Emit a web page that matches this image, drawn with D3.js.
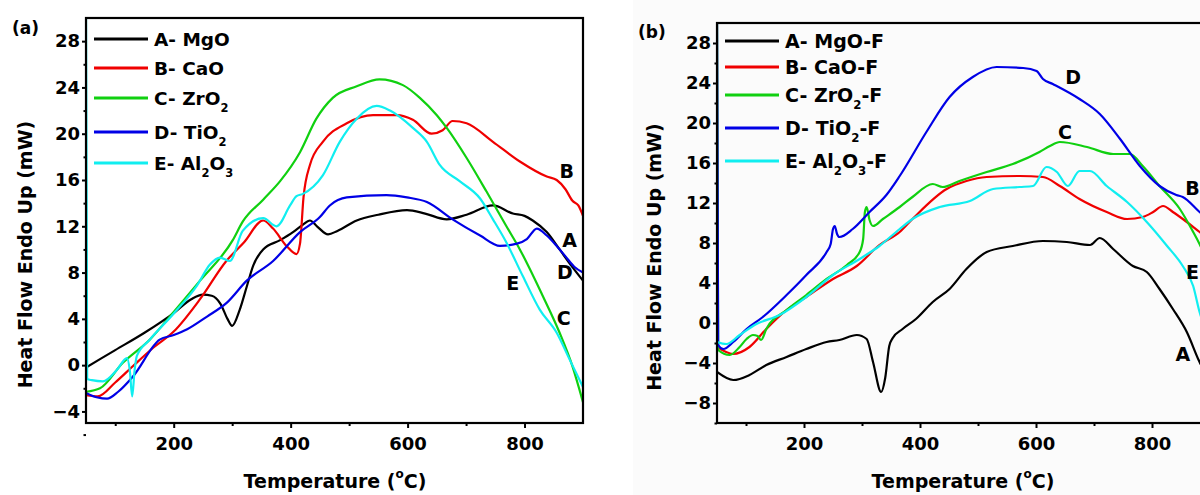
<!DOCTYPE html>
<html>
<head>
<meta charset="utf-8">
<script src="https://cdn.jsdelivr.net/npm/d3@7"></script>
<style>
  body { margin: 0; background: #fff; }
  svg { display: block; font-family: "DejaVu Sans", sans-serif; font-weight: bold; }
  .tick text { font-size: 18px; font-weight: bold; fill: #000; }
</style>
</head>
<body>
<div id="chart"></div>
<script>
// ---- panel (a) : oxides ----
var a_MgO = [[50,-0.2],[100,1.3],[150,2.8],[200,4.5],[230,5.7],[250,6.1],[265,6.0],[280,5.3],[292,4.0],[300,3.4],[313,4.8],[325,6.8],[336,8.6],[353,10.0],[382,10.8],[404,11.5],[420,12.1],[433,12.5],[445,12.0],[464,11.3],[480,11.6],[513,12.5],[550,13.0],[599,13.4],[630,13.1],[667,12.6],[701,13.0],[746,13.8],[780,13.1],[800,12.9],[814,12.5],[838,11.5],[860,10.0],[880,8.6],[900,7.3]];
var a_CaO = [[50,-2.6],[70,-2.7],[100,-1.5],[130,-0.1],[165,1.5],[200,2.9],[245,5.7],[290,9.0],[320,10.6],[353,12.5],[370,11.8],[393,10.3],[410,9.6],[416,10.5],[422,14.5],[433,17.3],[455,19.3],[496,20.9],[541,21.6],[582,21.6],[609,21.2],[641,20.0],[660,20.3],[677,21.1],[701,20.9],[746,19.3],[792,17.6],[838,16.3],[855,16.0],[870,15.2],[882,14.2],[892,13.8],[900,12.9]];
var a_ZrO2 = [[50,-2.3],[74,-2.0],[113,0.2],[159,2.2],[200,4.6],[245,7.3],[301,10.8],[318,12.4],[353,14.3],[382,15.9],[416,18.4],[444,21.3],[472,23.1],[513,24.1],[552,24.7],[592,24.2],[621,23.1],[650,21.6],[667,20.5],[701,17.9],[735,15.0],[769,12.0],[792,10.0],[831,6.0],[860,2.8],[882,-0.1],[900,-3.2]];
var a_TiO2 = [[50,-2.4],[70,-2.8],[86,-2.9],[105,-2.3],[130,-1.0],[176,2.2],[200,2.6],[223,3.1],[257,4.2],[291,5.4],[325,7.3],[370,9.0],[416,11.5],[450,12.8],[467,13.8],[496,14.5],[564,14.7],[599,14.5],[633,14.1],[677,12.6],[724,11.2],[758,10.3],[787,10.5],[804,10.9],[821,11.8],[838,11.2],[855,10.3],[870,9.4],[885,8.5],[900,8.0]];
var a_Al2O3 = [[50,31],[52,-1.2],[60,-1.3],[79,-1.4],[103,-0.4],[120,0.6],[125,-0.5],[129,-2.7],[133,-0.5],[137,0.8],[159,2.2],[199,4.4],[240,6.9],[262,8.7],[279,9.3],[296,9.0],[318,11.6],[353,12.7],[376,12.0],[399,13.8],[410,14.6],[421,14.8],[455,16.4],[484,19.3],[513,21.3],[547,22.4],[570,22.0],[609,20.5],[633,19.3],[655,17.3],[689,15.9],[724,14.4],[746,12.6],[769,10.6],[797,7.7],[826,4.8],[855,2.8],[877,0.5],[900,-1.9]];

// ---- panel (b) : fluorinated ----
var b_MgO = [[50,-4.9],[78,-5.7],[106,-5.2],[135,-4.2],[170,-3.4],[204,-2.6],[239,-1.9],[261,-1.7],[291,-1.2],[308,-1.6],[319,-3.9],[333,-6.9],[340,-5.5],[347,-2.3],[353,-1.5],[370,-0.6],[393,0.4],[422,2.1],[451,3.4],[480,5.4],[515,7.1],[560,7.7],[612,8.2],[653,8.1],[693,7.8],[710,8.5],[733,7.4],[767,5.7],[791,5.1],[813,3.4],[836,1.4],[860,-0.9],[882,-3.9],[900,-5.8]];
var b_CaO = [[50,-2.4],[78,-3.1],[106,-2.4],[135,-0.6],[170,1.3],[204,2.6],[250,4.4],[291,5.7],[330,7.8],[365,9.1],[387,10.4],[446,13.4],[480,14.2],[515,14.6],[572,14.7],[612,14.6],[641,13.7],[675,12.4],[722,11.1],[757,10.4],[784,10.6],[802,11.1],[819,11.7],[836,11.1],[860,10.1],[882,9.1],[900,8.3]];
var b_ZrO2 = [[50,31],[52,-2.7],[72,-3.2],[89,-2.4],[101,-1.6],[112,-1.2],[120,-1.3],[126,-1.7],[135,-0.6],[170,1.3],[204,2.8],[239,4.4],[274,5.8],[296,7.1],[302,8.4],[305,11.1],[308,11.6],[313,10.3],[319,9.7],[336,10.4],[365,11.6],[387,12.6],[422,13.9],[439,13.6],[468,14.2],[515,15.1],[560,15.9],[606,17.1],[624,17.7],[641,18.1],[688,17.6],[733,16.9],[762,16.9],[784,15.7],[813,13.7],[848,11.4],[871,9.1],[882,7.9],[900,5.5]];
var b_TiO2 = [[50,31],[52,-2.2],[61,-2.6],[78,-1.9],[101,-0.6],[129,0.6],[170,2.8],[204,4.8],[239,7.1],[246,7.9],[250,9.4],[253,9.7],[257,8.9],[261,8.6],[284,9.4],[313,11.1],[342,12.8],[365,14.7],[411,19.1],[451,22.6],[491,24.6],[532,25.6],[578,25.5],[601,25.2],[612,24.4],[629,23.9],[675,22.4],[710,20.9],[745,18.4],[779,15.7],[813,13.7],[842,12.8],[853,12.6],[882,11.1],[900,10.2]];
var b_Al2O3 = [[50,-1.9],[66,-2.1],[89,-1.2],[118,-0.1],[158,0.8],[204,2.6],[250,4.8],[296,6.4],[330,7.7],[365,9.4],[387,10.4],[434,11.6],[486,12.2],[526,13.4],[572,13.6],[595,13.7],[618,15.6],[636,15.1],[655,13.7],[675,15.2],[693,15.2],[722,13.7],[757,12.1],[791,10.1],[826,7.7],[853,5.7],[871,3.7],[882,1.1],[900,-1.5]];

var colors = ['#000000', '#f00000', '#10d010', '#0000e6', '#10eef0'];
var letters = ['A', 'B', 'C', 'D', 'E'];
// legend names as pieces, 'sub' marks a subscript
var namesA = [[['MgO']], [['CaO']], [['ZrO'], ['2', 'sub']], [['TiO'], ['2', 'sub']], [['Al'], ['2', 'sub'], ['O'], ['3', 'sub']]];
var namesB = [[['MgO-F']], [['CaO-F']], [['ZrO'], ['2', 'sub'], ['-F']], [['TiO'], ['2', 'sub'], ['-F']], [['Al'], ['2', 'sub'], ['O'], ['3', 'sub'], ['-F']]];

var xTicks = [200, 400, 600, 800];
var xMinor = [100, 300, 500, 700];
var yTicksA = [-4, 0, 4, 8, 12, 16, 20, 24, 28];
var yTicksB = [-8, -4, 0, 4, 8, 12, 16, 20, 24, 28];

// curve labels [letter, T, value]
var tagsA = [['B', 872, 16.8], ['A', 877, 10.8], ['D', 869, 8.0], ['E', 780, 7.1], ['C', 867, 4.1]];
var tagsB = [['D', 664, 24.6], ['C', 650, 19.1], ['B', 870, 13.5], ['E', 870, 5.1], ['A', 853, -3.1]];

var svg = d3.select('#chart').append('svg')
    .attr('width', 1200)
    .attr('height', 495);

// faint background of second picture
svg.append('rect').attr('x', 633).attr('y', 0).attr('width', 567).attr('height', 495).attr('fill', '#fbfbfb');

function drawPanel(p) {
    var x = d3.scaleLinear().domain([50, 900]).range([p.left, p.right]);
    var y = d3.scaleLinear().domain(p.yDomain).range([p.bottom, p.top]);
    var g = svg.append('g');

    var clipId = 'clip' + p.id;
    g.append('clipPath').attr('id', clipId)
        .append('rect').attr('x', p.left).attr('y', p.top)
        .attr('width', p.right - p.left).attr('height', p.bottom - p.top);

    var line = d3.line()
        .x(function (d) { return x(d[0]); })
        .y(function (d) { return y(d[1]); })
        .curve(d3.curveMonotoneX);

    g.append('g').attr('clip-path', 'url(#' + clipId + ')')
        .selectAll('path')
        .data(p.series)
        .enter()
        .append('path')
        .attr('d', line)
        .attr('fill', 'none')
        .attr('stroke', function (d, i) { return colors[i]; })
        .attr('stroke-width', 2.2)
        .attr('stroke-linejoin', 'round');

    // frame
    g.append('rect')
        .attr('x', p.left).attr('y', p.top)
        .attr('width', p.right - p.left).attr('height', p.bottom - p.top)
        .attr('fill', 'none').attr('stroke', '#000').attr('stroke-width', 2.2);

    g.append('g').attr('transform', 'translate(0,' + p.bottom + ')')
        .call(d3.axisBottom(x).tickValues(xTicks).tickSize(5).tickPadding(9).tickFormat(d3.format('d')));
    g.append('g').attr('transform', 'translate(0,' + p.bottom + ')')
        .call(d3.axisBottom(x).tickValues(xMinor).tickSize(3).tickFormat(''));

    g.append('g').attr('transform', 'translate(' + p.left + ',0)')
        .call(d3.axisLeft(y).tickValues(p.yTicks).tickSize(4).tickPadding(2).tickFormat(d3.format('d')));
    g.append('g').attr('transform', 'translate(' + p.left + ',0)')
        .call(d3.axisLeft(y).tickValues(p.yTicks.map(function (v) { return v - 2; })).tickSize(2.5).tickFormat(''));

    g.selectAll('.domain').remove();
    g.selectAll('.tick line').attr('stroke', '#000').attr('stroke-width', 2);
    g.selectAll('.tick text').attr('font-family', '"DejaVu Sans", sans-serif');

    // legend
    var leg = g.append('g');
    p.names.forEach(function (parts, i) {
        var ly = p.legRows[i];
        leg.append('line')
            .attr('x1', p.legX).attr('x2', p.legX + 54)
            .attr('y1', ly).attr('y2', ly)
            .attr('stroke', colors[i]).attr('stroke-width', 3);
        var t = leg.append('text')
            .attr('x', p.legX + 60).attr('y', ly).attr('dy', '0.36em')
            .attr('font-size', p.legFont);
        t.append('tspan').text(letters[i] + '- ');
        parts.forEach(function (pt, j) {
            var s = t.append('tspan').text(pt[0]);
            if (pt[1] === 'sub') {
                s.attr('font-size', p.legFont * 0.62).attr('dy', 7);
            } else if (j > 0 && parts[j - 1][1] === 'sub') {
                s.attr('dy', -7);
            }
        });
    });

    // curve letters
    g.selectAll('text.tag')
        .data(p.tags)
        .enter()
        .append('text')
        .attr('class', 'tag')
        .attr('x', function (d) { return x(d[1]); })
        .attr('y', function (d) { return y(d[2]); })
        .attr('text-anchor', 'middle')
        .attr('dy', '0.36em')
        .attr('font-size', 19)
        .text(function (d) { return d[0]; });

    // panel title
    g.append('text').attr('x', p.titleX).attr('y', p.titleY)
        .attr('font-size', 17).text(p.title);

    // axis titles
    g.append('text')
        .attr('transform', 'translate(' + p.yLabelX + ',' + ((p.top + p.bottom) / 2 + 34) + ') rotate(-90)')
        .attr('text-anchor', 'middle')
        .attr('font-size', 19)
        .text('Heat Flow Endo Up (mW)');

    var xt = g.append('text')
        .attr('x', p.xLabelX).attr('y', 488)
        .attr('text-anchor', 'middle')
        .attr('font-size', 19);
    xt.append('tspan').text('Temperature (');
    xt.append('tspan').text('o').attr('font-size', 12).attr('dy', -10);
    xt.append('tspan').text('C)').attr('dy', 10);
}

drawPanel({
    id: 'a', left: 86, right: 583, top: 18, bottom: 423,
    yDomain: [-5, 30], yTicks: yTicksA,
    series: [a_MgO, a_CaO, a_ZrO2, a_TiO2, a_Al2O3],
    names: namesA, legX: 94, legRows: [39, 68, 98, 132, 163], legFont: 18.5,
    tags: tagsA, title: '(a)', titleX: 12, titleY: 34,
    yLabelX: 32, xLabelX: 335
});

drawPanel({
    id: 'b', left: 717, right: 1210, top: 23, bottom: 423,
    yDomain: [-10, 30], yTicks: yTicksB,
    series: [b_MgO, b_CaO, b_ZrO2, b_TiO2, b_Al2O3],
    names: namesB, legX: 725, legRows: [41, 67, 95, 128, 161], legFont: 19,
    tags: tagsB, title: '(b)', titleX: 638, titleY: 38,
    yLabelX: 661, xLabelX: 963
});
</script>
</body>
</html>
